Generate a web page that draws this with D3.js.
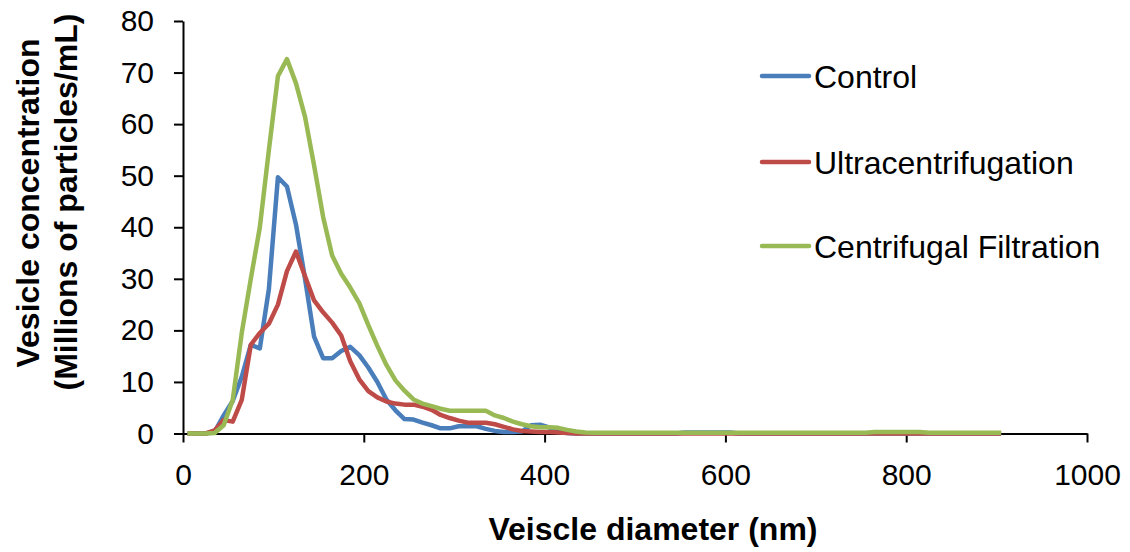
<!DOCTYPE html>
<html>
<head>
<meta charset="utf-8">
<script src="https://cdn.jsdelivr.net/npm/d3@7"></script>
<style>
  body { margin: 0; background: #fff; }
  svg { font-family: "Liberation Sans", Arial, sans-serif; }
  .axis path, .axis line { stroke: #000; stroke-width: 2; }
  .axis text { font-size: 30px; fill: #000; }
  .line { fill: none; stroke-width: 4.5; stroke-linejoin: round; }
  .legend text { font-size: 32px; fill: #000; }
  .title { font-size: 32px; font-weight: bold; fill: #000; }
</style>
</head>
<body>
<svg id="chart" width="1130" height="552"></svg>
<script>
// bin centres (nm)
var diameters = [5,15,25,35,45,55,65,75,85,95,105,115,125,135,145,155,165,175,185,195,
  205,215,225,235,245,255,265,275,285,295,305,315,325,335,345,355,365,375,385,395,
  405,415,425,435,445,455,465,475,485,495,505,515,525,535,545,555,565,575,585,595,
  605,615,625,635,645,655,665,675,685,695,705,715,725,735,745,755,765,775,785,795,
  805,815,825,835,845,855,865,875,885,895,905];

var control = [0,0,0,0.3,3.5,6.3,11,17.2,16.5,28,49.7,47.9,40.5,30,18.8,14.6,14.6,16,16.8,15.2,
  12.8,10,6.6,4.5,2.8,2.7,2.1,1.6,1.0,1.0,1.4,1.4,1.4,0.9,0.5,0.3,0.3,0.4,1.6,1.7,
  1.2,0.5,0.1,0,0,0,0,0,0,0,0,0,0,0,0,0.2,0.2,0.2,0.2,0.2,
  0.2,0,0,0,0,0,0,0,0,0,0,0,0,0,0,0,0,0,0,0,
  0,0,0,0,0,0,0,0,0,0,0];

var ultra = [0,0,0,0.6,2.6,2.3,6.5,17.2,19.5,21.3,25,31.5,35.3,30.5,25.8,23.5,21.5,19,14,10.5,
  8.2,7,6.2,5.8,5.6,5.6,5.2,4.6,3.6,3.0,2.5,2.1,2.1,2.1,1.8,1.3,0.8,0.5,0.4,0.3,
  0.3,0.2,0.1,0,0,0,0,0,0,0,0,0,0,0,0,0,0,0,0,0,
  0,0,0,0,0,0,0,0,0,0,0,0,0,0,0,0,0,0,0,0,
  0,0,0,0,0,0,0,0,0,0,0];

var filtration = [0,0,0,0.1,1.6,6.5,19.5,30,40,55,69.3,72.6,67.9,61.4,52,42,34.5,31,28.3,25.3,
  21,17,13.3,10.3,8.3,6.6,5.8,5.3,4.8,4.4,4.4,4.4,4.4,4.4,3.5,3.0,2.3,1.8,1.4,1.2,
  1.2,1.1,0.7,0.4,0.2,0.15,0.15,0.15,0.15,0.15,0.15,0.15,0.15,0.15,0.15,0.15,0.15,0.15,0.15,0.15,
  0.15,0.15,0.15,0.15,0.15,0.15,0.15,0.15,0.15,0.15,0.15,0.15,0.15,0.15,0.15,0.15,0.3,0.3,0.3,0.3,
  0.3,0.3,0.15,0.15,0.15,0.15,0.15,0.15,0.15,0.15,0.15];

var seriesNames = ['Control', 'Ultracentrifugation', 'Centrifugal Filtration'];
var xTicks = [0, 200, 400, 600, 800, 1000];
var yTicks = [0, 10, 20, 30, 40, 50, 60, 70, 80];

var margin = { top: 21, right: 43, bottom: 118.5, left: 183 },
    svg = d3.select('#chart'),
    width = +svg.attr('width') - margin.left - margin.right,
    height = +svg.attr('height') - margin.top - margin.bottom;
var g = svg.append('g')
  .attr('transform', 'translate(' + margin.left + ',' + margin.top + ')');

var x = d3.scaleLinear().domain([0, 1000]).range([0, width]),
    y = d3.scaleLinear().domain([0, 80]).range([height, 0]),
    z = d3.scaleOrdinal().domain(seriesNames).range(['#4a7ebb', '#be4b48', '#98b954']);

var trends = [control, ultra, filtration].map(function(vals, i) {
  return {
    name: seriesNames[i],
    values: vals.map(function(v, j) { return { d: diameters[j], v: v }; })
  };
});

var line = d3.line()
  .x(function(d) { return x(d.d); })
  .y(function(d) { return y(d.v); });

// axes
g.append('g')
  .attr('class', 'axis axis-x')
  .attr('transform', 'translate(0,' + height + ')')
  .call(d3.axisBottom(x).tickValues(xTicks).tickFormat(d3.format('d'))
    .tickSize(9).tickSizeOuter(0).tickPadding(21));

g.append('g')
  .attr('class', 'axis axis-y')
  .call(d3.axisLeft(y).tickValues(yTicks).tickSize(9).tickSizeOuter(0).tickPadding(20));

// lines
g.selectAll('.trend')
  .data(trends)
  .enter()
  .append('path')
  .attr('class', 'line')
  .attr('d', function(d) { return line(d.values); })
  .style('stroke', function(d) { return z(d.name); });

// legend
var legendY = [76, 162, 246];
var legend = svg.selectAll('.legend')
  .data(trends)
  .enter()
  .append('g')
  .attr('class', 'legend');

legend.append('line')
  .attr('x1', 762).attr('x2', 809)
  .attr('y1', function(d, i) { return legendY[i]; })
  .attr('y2', function(d, i) { return legendY[i]; })
  .style('stroke', function(d) { return z(d.name); })
  .style('stroke-width', 4.5)
  .style('stroke-linecap', 'round');

legend.append('text')
  .attr('x', 814)
  .attr('y', function(d, i) { return legendY[i]; })
  .attr('dy', '0.36em')
  .text(function(d) { return d.name; });

// axis titles
svg.append('text')
  .attr('class', 'title')
  .attr('x', 653)
  .attr('y', 540)
  .attr('text-anchor', 'middle')
  .text('Veiscle diameter (nm)');

svg.append('text')
  .attr('class', 'title')
  .attr('transform', 'translate(39,203) rotate(-90)')
  .attr('text-anchor', 'middle')
  .text('Vesicle concentration');

svg.append('text')
  .attr('class', 'title')
  .attr('transform', 'translate(77,202) rotate(-90)')
  .attr('text-anchor', 'middle')
  .text('(Millions of particles/mL)');
</script>
</body>
</html>
